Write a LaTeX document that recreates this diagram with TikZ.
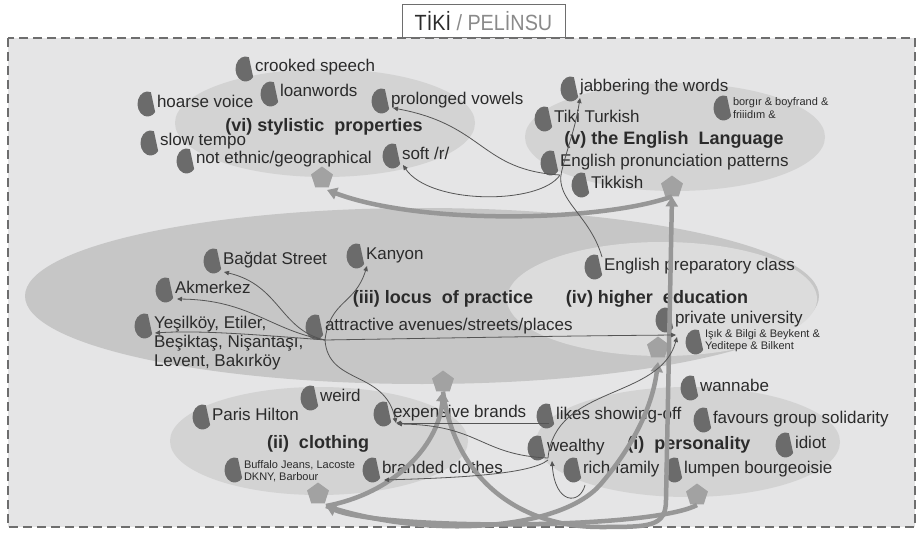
\documentclass[tikz,border=0pt]{standalone}
\usepackage{fontspec}
\usepackage{graphicx}
\setmainfont{Liberation Sans}
\usetikzlibrary{arrows.meta,shapes.geometric}
\definecolor{bgc}{HTML}{E5E5E6}
\definecolor{ellc}{HTML}{D3D3D3}
\definecolor{bigc}{HTML}{C6C6C6}
\definecolor{ivc}{HTML}{DCDCDC}
\definecolor{bulc}{HTML}{6B6B6B}
\definecolor{txtc}{HTML}{2B2B2B}
\definecolor{thinc}{HTML}{555555}
\definecolor{thickc}{HTML}{979797}
\definecolor{pentc}{HTML}{A2A2A2}
\definecolor{bordc}{HTML}{6E6E6E}
\definecolor{titgray}{HTML}{8A8A8A}

\tikzset{
  itm/.style={anchor=base west, inner sep=0pt, outer sep=0pt, text=txtc, font=\fontsize{17}{19}\selectfont},
  itmm/.style={anchor=west, inner sep=0pt, outer sep=0pt, text=txtc, align=left, font=\fontsize{17}{19}\selectfont},
  itms/.style={anchor=west, inner sep=0pt, outer sep=0pt, text=txtc, align=left, font=\fontsize{11}{12.3}\selectfont},
  cat/.style={anchor=base, inner sep=0pt, text=txtc, font=\bfseries\fontsize{18}{20}\selectfont},
  pent/.style={regular polygon, regular polygon sides=5, minimum size=23pt, inner sep=0pt, fill=pentc},
  tarr/.style={draw=thinc, line width=0.8pt, -{Triangle[length=5pt,width=4.5pt]}},
  karr/.style={draw=thickc, line width=4.5pt, -{Triangle[length=10pt,width=12pt]}},
  bulletmark/.style={fill=bulc}
}

% single-line item: name, x of text start, y of text middle (pixels), text
\newcommand{\itm}[4]{%
  \coordinate (#1b) at (#2-9.5,-#3-3);
  \fill[bulletmark] (#1b) ++(3.42,11.75) arc[start angle=70,end angle=320,x radius=10,y radius=12.5] -- cycle;
  \node[itm] (#1) at (#2,-#3-6) {#4};
}
% multi-line item: style, name, x, bullet y, node middle y, text
\newcommand{\itmml}[6]{%
  \coordinate (#2b) at (#3-9.5,-#4);
  \fill[bulletmark] (#2b) ++(3.42,11.75) arc[start angle=70,end angle=320,x radius=10,y radius=12.5] -- cycle;
  \node[#1] (#2) at (#3,-#5) {#6};
}

\begin{document}
\begin{tikzpicture}[x=1pt,y=1pt]
\useasboundingbox (0,0) rectangle (922,-543);
\fill[white] (0,0) rectangle (922,-543);

% title box
\node[draw=bordc, fill=white, line width=1pt, minimum width=163pt, minimum height=33pt, inner sep=0pt] (title) at (483.5,-21.5)
  {\fontsize{22}{24}\selectfont\scalebox{0.9}[1]{\textcolor{txtc}{TİKİ} \textcolor{titgray}{/ PELİNSU}}};

% background frame
\fill[bgc] (8,-38) rectangle (915,-527);
\draw[bordc, line width=2.5pt, dash pattern=on 9pt off 5pt] (8,-38) rectangle (915,-527);

% ellipses
\fill[ellc] (325,-123) ellipse[x radius=150, y radius=54];
\fill[ellc] (675,-137) ellipse[x radius=150, y radius=54];
\fill[bigc] (422,-296) ellipse[x radius=397, y radius=88];
\fill[ivc] (662,-299) ellipse[x radius=155, y radius=57];
\fill[ellc] (319,-441) ellipse[x radius=149, y radius=54];
\fill[ellc] (688,-442) ellipse[x radius=152, y radius=55];

% category labels
\node[cat] (c6) at (324,-131.5) {(vi) stylistic\ \ properties};
\node[cat] (c5) at (674,-144.5) {(v) the English\ \ Language};
\node[cat] (c3) at (443,-303.5) {(iii) locus\ \ of practice};
\node[cat] (c4) at (657,-303.5) {(iv) higher\ \ education};
\node[cat] (c2) at (318,-448.5) {(ii)\ \ clothing};
\node[cat] (c1) at (689,-449.5) {(i)\ \ personality};

% items: (vi)
\itm{crooked}{255}{66}{crooked speech}
\itm{loan}{280}{91}{loanwords}
\itm{hoarse}{157}{101}{hoarse voice}
\itm{prol}{391}{98}{prolonged vowels}
\itm{slow}{160}{140}{slow tempo}
\itm{noteth}{196}{158}{not ethnic/geographical}
\itm{soft}{402}{153}{soft /r/}
% (v)
\itm{jabb}{580}{86}{jabbering the words}
\itmml{itms}{borg}{733}{108}{108}{borgır \& boyfrand \&\\friiidım \&}
\itm{tiki}{554}{116}{Tiki Turkish}
\itm{pron}{560}{160}{English pronunciation patterns}
\itm{tikk}{591}{182}{Tikkish}
% (iii)
\itm{bagdat}{223}{258}{Bağdat Street}
\itm{kanyon}{366}{253}{Kanyon}
\itm{akm}{175}{287}{Akmerkez}
\itmml{itmm}{yesil}{154}{326}{343}{Yeşilköy, Etiler,\\Beşiktaş, Nişantaşı,\\Levent, Bakırköy}
\itm{attr}{325}{324}{attractive avenues/streets/places}
% (iv)
\itm{prep}{604}{264}{English preparatory class}
\itm{priv}{675}{317}{private university}
\itmml{itms}{isik}{705}{342}{341}{Işık \& Bilgi \& Beykent \&\\Yeditepe \& Bilkent}
% (ii)
\itm{weird}{320}{395}{weird}
\itm{paris}{212}{414}{Paris Hilton}
\itm{exp}{393}{411}{expensive brands}
\itmml{itms}{buff}{244}{470}{471}{Buffalo Jeans, Lacoste\\DKNY, Barbour}
\itm{brand}{382}{467}{branded clothes}
% (i)
\itm{wann}{700}{385}{wannabe}
\itm{likes}{556}{413}{likes showing-off}
\itm{favo}{713}{417}{favours group solidarity}
\itm{wealth}{547}{445}{wealthy}
\itm{idiot}{795}{442}{idiot}
\itm{rich}{583}{467}{rich family}
\itm{lump}{684}{467}{lumpen bourgeoisie}

% pentagons
\node[pent] (p6) at (322,-178) {};
\node[pent] (p5) at (672,-187) {};
\node[pent] (p4) at (658,-348) {};
\node[pent] (p3) at (443,-382) {};
\node[pent] (p2) at (318,-494) {};
\node[pent] (p1) at (697,-495) {};

% thick connectors
\draw[karr] ([shift={(0,-10)}]p1.center) .. controls (650,-530) and (380,-530) .. ([shift={(8,-12)}]p2.center);
\draw[karr] ([shift={(8,-12)}]p2.center) .. controls (400,-492) and (440,-440) .. (p3.south);
\draw[karr] (p3.south) .. controls (455,-480) and (520,-527) .. (600,-527) .. controls (650,-527) and (666,-527) .. (666,-500) -- (p5.south);
\draw[karr] ([shift={(8,-12)}]p2.center) .. controls (430,-540) and (560,-530) .. (600,-485) .. controls (630,-450) and (652,-410) .. ([shift={(0,-14)}]p4.center);
\draw[karr] (p5.south) .. controls (600,-222) and (420,-225) .. ([shift={(5,-12)}]p6.center);

% thin connectors
\draw[tarr] ([shift={(9.5,-12)}]pronb) .. controls (480,-170) and (485,-125) .. ([shift={(11.5,-7)}]prolb);
\draw[tarr] ([shift={(9.5,-12)}]pronb) .. controls (540,-205) and (430,-205) .. ([shift={(10.5,-9)}]softb);
\draw[tarr] ([shift={(7.5,10)}]prepb) .. controls (590,-215) and (555,-200) .. ([shift={(11,-9)}]pronb) .. controls (568,-145) and (575,-130) .. ([shift={(9.5,-9)}]jabbb);
\draw[tarr] ([shift={(9.5,-13)}]attrb) .. controls (280,-330) and (280,-285) .. ([shift={(10.5,-11)}]bagdatb);
\draw[tarr] ([shift={(9.5,-13)}]attrb) .. controls (270,-330) and (250,-300) .. ([shift={(11.5,-9)}]akmb);
\draw[tarr] ([shift={(9.5,-13)}]attrb) .. controls (260,-335) and (200,-330) .. ([shift={(10.5,-7)}]yesilb);
\draw[tarr] ([shift={(9.5,-13)}]attrb) .. controls (330,-300) and (355,-305) .. ([shift={(10.5,-10)}]kanyonb);
\draw[tarr] ([shift={(9.5,-13)}]attrb) .. controls (450,-338) and (550,-336) .. ([shift={(10.5,-15)}]privb);
\draw[tarr] ([shift={(9.5,-13)}]attrb) .. controls (328,-385) and (385,-370) .. ([shift={(12.5,-9)}]expb);
\draw[tarr] ([shift={(2,-7)}]likesb) -- ([shift={(12.5,-9)}]expb);
\draw[tarr] ([shift={(10.5,-10)}]wealthb) .. controls (480,-455) and (480,-425) .. ([shift={(13.5,-10)}]expb);
\draw[tarr] ([shift={(10.5,-12)}]wealthb) .. controls (530,-475) and (450,-478) .. ([shift={(11.5,-10)}]brandb);
\draw[tarr] ([shift={(10.5,-10)}]wealthb) .. controls (555,-385) and (660,-400) .. ([shift={(11.5,-17)}]privb);
\draw[tarr] ([shift={(11.5,-15)}]richb) .. controls (580,-505) and (555,-505) .. ([shift={(14.5,-13)}]wealthb);
\end{tikzpicture}
\end{document}
